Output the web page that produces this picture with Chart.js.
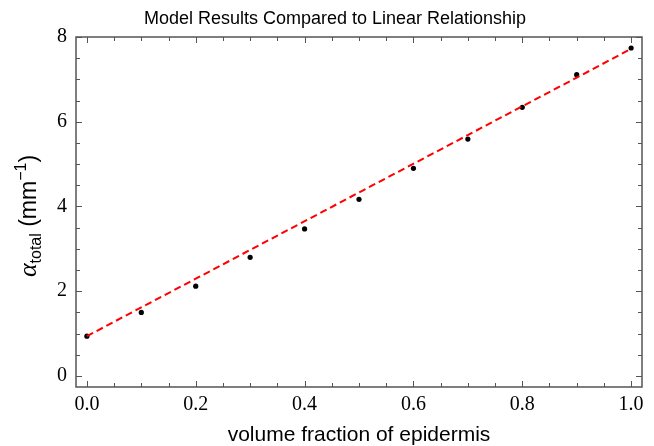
<!DOCTYPE html>
<html><head><meta charset="utf-8">
<script src="https://cdn.jsdelivr.net/npm/chart.js@4/dist/chart.umd.min.js"></script>
<style>html,body{margin:0;padding:0;background:#fff}#wrap{width:654px;height:446px}</style>
</head><body><div id="wrap"><canvas id="c" width="654" height="446"></canvas></div>
<script>
// ---- data ----
const volumeFraction = [0.0, 0.1, 0.2, 0.3, 0.4, 0.5, 0.6, 0.7, 0.8, 0.9, 1.0];
const alphaModel     = [0.94, 1.50, 2.12, 2.80, 3.47, 4.17, 4.90, 5.59, 6.34, 7.11, 7.74];
const fitX = [0.0, 1.0];
const fitY = [0.94, 7.72];
const xTickValues = [0.0, 0.2, 0.4, 0.6, 0.8, 1.0];
const yTickValues = [0, 2, 4, 6, 8];
const xMinorValues = [0.05,0.1,0.15,0.25,0.3,0.35,0.45,0.5,0.55,0.65,0.7,0.75,0.85,0.9,0.95];
const yMinorValues = [0.5,1,1.5,2.5,3,3.5,4.5,5,5.5,6.5,7,7.5];
const titleText = 'Model Results Compared to Linear Relationship';
const xTitleText = 'volume fraction of epidermis';

const SANS = '"Liberation Sans", Arial, Helvetica, sans-serif';
const SERIF = '"Liberation Serif", "Times New Roman", serif';
const AXIS_COLOR = '#555555';

const framePlugin = {
  id: 'frame',
  afterDraw(chart) {
    const ctx = chart.ctx, a = chart.chartArea;
    const xs = chart.scales.x, ys = chart.scales.y;
    ctx.save();
    ctx.strokeStyle = AXIS_COLOR;
    ctx.lineWidth = 1.5;
    ctx.strokeRect(a.left, a.top, a.right - a.left, a.bottom - a.top);
    ctx.lineWidth = 1;
    const tick = (x1, y1, x2, y2) => { ctx.beginPath(); ctx.moveTo(x1, y1); ctx.lineTo(x2, y2); ctx.stroke(); };
    const MAJ = 6, MIN = 4;
    xTickValues.forEach(v => { const p = Math.round(xs.getPixelForValue(v)) + 0.5; tick(p, a.bottom, p, a.bottom - MAJ); tick(p, a.top, p, a.top + MAJ); });
    xMinorValues.forEach(v => { const p = Math.round(xs.getPixelForValue(v)) + 0.5; tick(p, a.bottom, p, a.bottom - MIN); tick(p, a.top, p, a.top + MIN); });
    yTickValues.forEach(v => { const p = Math.round(ys.getPixelForValue(v)) + 0.5; tick(a.left, p, a.left + MAJ, p); tick(a.right, p, a.right - MAJ, p); });
    yMinorValues.forEach(v => { const p = Math.round(ys.getPixelForValue(v)) + 0.5; tick(a.left, p, a.left + MIN, p); tick(a.right, p, a.right - MIN, p); });
    // title
    ctx.fillStyle = '#000';
    ctx.font = '18px ' + SANS;
    ctx.textAlign = 'center';
    ctx.textBaseline = 'middle';
    ctx.fillText(titleText, 335, 19);
    // y axis label with sub/superscripts
    const parts = [
      { t: '\u03B1', f: 'italic 26px ' + SERIF, dy: 0 },
      { t: 'total', f: '16px ' + SANS, dy: 5 },
      { t: ' (mm', f: '23px ' + SANS, dy: 0 },
      { t: '\u22121', f: '16px ' + SANS, dy: -10 },
      { t: ')', f: '23px ' + SANS, dy: 0 }
    ];
    let total = 0;
    parts.forEach(p => { ctx.font = p.f; p.w = ctx.measureText(p.t).width; total += p.w; });
    const cy = 216, bx = 36;
    ctx.translate(bx, cy);
    ctx.rotate(-Math.PI / 2);
    ctx.textAlign = 'left';
    ctx.textBaseline = 'alphabetic';
    let x = -total / 2;
    parts.forEach(p => { ctx.font = p.f; ctx.fillText(p.t, x, p.dy); x += p.w; });
    ctx.restore();
  }
};

new Chart(document.getElementById('c'), {
  type: 'scatter',
  data: {
    datasets: [
      {
        label: 'Linear',
        data: fitX.map((x, i) => ({ x, y: fitY[i] })),
        showLine: true,
        borderColor: '#ff0000',
        borderWidth: 2,
        borderDash: [7, 4],
        pointRadius: 0,
        fill: false
      },
      {
        label: 'Model',
        data: volumeFraction.map((x, i) => ({ x, y: alphaModel[i] })),
        pointRadius: 2.6,
        pointBorderWidth: 0,
        backgroundColor: '#000000',
        borderColor: '#000000'
      }
    ]
  },
  options: {
    responsive: false,
    devicePixelRatio: 1,
    animation: false,
    layout: { padding: { top: 37, right: 12, left: 0, bottom: 0 } },
    plugins: { legend: { display: false }, tooltip: { enabled: false }, title: { display: false } },
    scales: {
      x: {
        type: 'linear',
        min: -0.02, max: 1.02,
        afterBuildTicks: s => { s.ticks = xTickValues.map(v => ({ value: v })); },
        afterFit: s => { s.height = 59; },
        grid: { display: false, drawTicks: false },
        border: { display: false },
        ticks: { color: '#000', padding: 6, maxRotation: 0, font: { family: SERIF, size: 20 }, callback: v => Number(v).toFixed(1) },
        title: { display: true, text: xTitleText, color: '#000', font: { family: SANS, size: 21, lineHeight: 1 }, padding: 0 }
      },
      y: {
        type: 'linear',
        min: -0.26, max: 8,
        afterBuildTicks: s => { s.ticks = yTickValues.map(v => ({ value: v })); },
        afterFit: s => { s.width = 76; },
        grid: { display: false, drawTicks: false },
        border: { display: false },
        ticks: { color: '#000', padding: 9, font: { family: SERIF, size: 20 }, callback: v => String(v) }
      }
    }
  },
  plugins: [framePlugin]
});
</script>
</body></html>
